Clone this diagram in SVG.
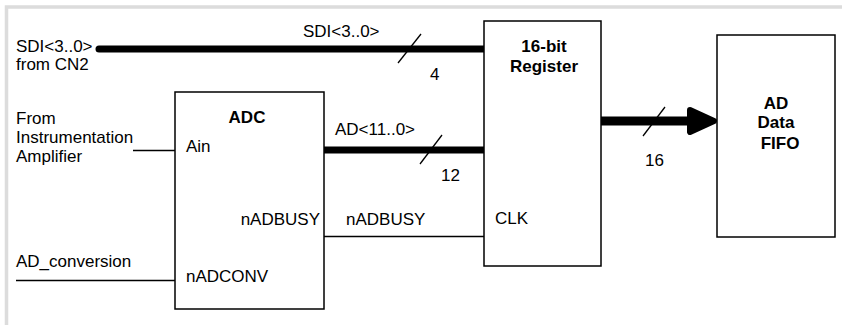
<svg xmlns="http://www.w3.org/2000/svg" width="842" height="325" viewBox="0 0 842 325">
<style>
text{font-family:"Liberation Sans",Arial,sans-serif;font-size:17px;fill:#000}
.b{font-weight:bold;text-anchor:middle}
.box{fill:#fff;stroke:#000;stroke-width:1.5}
.thin{stroke:#000;stroke-width:1.3;fill:none}
.bus{stroke:#000;stroke-width:7;stroke-linecap:round;fill:none}
.slash{stroke:#000;stroke-width:1.3}
</style>
<rect width="842" height="325" fill="#fff"/>
<path d="M6.5,325 V7 H842" fill="none" stroke="#dcdcdc" stroke-width="3.5"/>
<g id="connectors">
<line class="bus" x1="99" y1="49" x2="485" y2="49"/>
<line class="slash" x1="421" y1="34" x2="398" y2="63"/>
<line class="bus" x1="322" y1="150" x2="485" y2="150"/>
<line class="slash" x1="442" y1="135" x2="420" y2="164"/>
<line class="thin" x1="133" y1="150.5" x2="175" y2="150.5"/>
<line class="thin" x1="16" y1="280.5" x2="175" y2="280.5"/>
<line class="thin" x1="324" y1="236.5" x2="484" y2="236.5"/>
<line x1="601" y1="121" x2="696" y2="121" stroke="#000" stroke-width="9"/>
<polygon points="690,110 714,121 690,132" fill="#000" stroke="#000" stroke-width="6" stroke-linejoin="round"/>
<line class="slash" x1="665" y1="107" x2="643" y2="136"/>
<text x="303" y="37">SDI&lt;3..0&gt;</text>
<text x="430" y="80">4</text>
<text x="335" y="135">AD&lt;11..0&gt;</text>
<text x="441" y="181">12</text>
<text x="346" y="225">nADBUSY</text>
<text x="645" y="166">16</text>
<text x="16" y="52">SDI&lt;3..0&gt;</text>
<text x="16" y="70">from CN2</text>
<text x="16" y="124">From</text>
<text x="16" y="142.5">Instrumentation</text>
<text x="16" y="162">Amplifier</text>
<text x="16" y="267">AD_conversion</text>
</g>
<g id="adc">
<rect class="box" x="175" y="92" width="149" height="217"/>
<text class="b" x="247" y="123">ADC</text>
<text x="186" y="152">Ain</text>
<text x="320" y="225" text-anchor="end">nADBUSY</text>
<text x="186" y="282">nADCONV</text>
</g>
<g id="register">
<rect class="box" x="484" y="21" width="117" height="245"/>
<text class="b" x="544" y="52">16-bit</text>
<text class="b" x="544" y="72">Register</text>
<text x="495" y="224">CLK</text>
</g>
<g id="fifo">
<rect class="box" x="717" y="35" width="118" height="202"/>
<text class="b" x="776" y="109">AD</text>
<text class="b" x="776" y="128">Data</text>
<text class="b" x="780" y="149">FIFO</text>
</g>
</svg>
